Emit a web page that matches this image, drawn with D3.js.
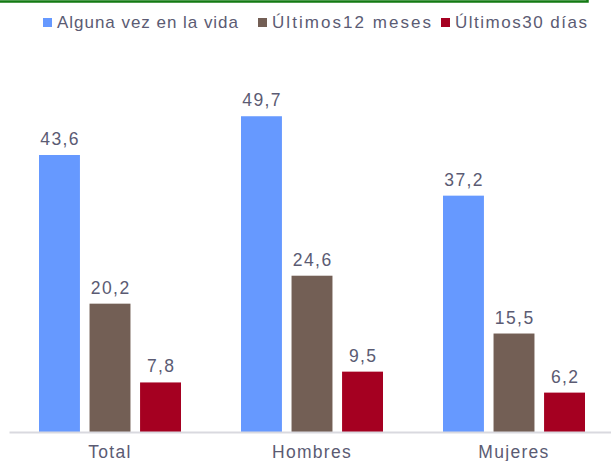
<!DOCTYPE html>
<html lang="es">
<head>
<meta charset="UTF-8">
<title>Consumo</title>
<style>
  body { margin: 0; background: #fff; }
  svg { display: block; font-family: "Liberation Sans", Arial, sans-serif; }
</style>
</head>
<body>
<script src="https://d3js.org/d3.v7.min.js"></script>
<script>
const categories = ["Total", "Hombres", "Mujeres"];
const seriesNames = ["Alguna vez en la vida", "Últimos12 meses", "Últimos30 días"];
const vidaValues = [43.6, 49.7, 37.2];
const mesesValues = [20.2, 24.6, 15.5];
const diasValues = [7.8, 9.5, 6.2];
const colors = ["#6699ff", "#735f55", "#a50021"];

const width = 611, height = 461;
const baseY = 432;
const textColor = "#5b5b73";

const rows = categories.map((c, i) => ({
  cat: c,
  vals: [vidaValues[i], mesesValues[i], diasValues[i]]
}));

const svg = d3.select("body").append("svg")
  .attr("width", width)
  .attr("height", height);

// green frame edge at the top
svg.append("rect")
  .attr("x", -10).attr("y", -50)
  .attr("width", 597.5).attr("height", 51.5)
  .attr("fill", "none")
  .attr("stroke", "#137a13")
  .attr("stroke-width", 2.5);

const x = d3.scaleBand()
  .domain(categories)
  .range([9, 615]);

const xs = d3.scaleBand()
  .domain(d3.range(seriesNames.length))
  .range([30, 172])
  .paddingInner(0.19);

const y = d3.scaleLinear()
  .domain([0, 60])
  .range([baseY, 50.8]);

const g = svg.selectAll("g.grp")
  .data(rows)
  .enter()
  .append("g")
  .attr("class", "grp")
  .attr("transform", d => "translate(" + x(d.cat) + ",0)");

g.selectAll("rect")
  .data(d => d.vals)
  .enter()
  .append("rect")
  .attr("x", (d, i) => xs(i))
  .attr("y", d => y(d))
  .attr("width", xs.bandwidth())
  .attr("height", d => baseY - y(d))
  .attr("fill", (d, i) => colors[i]);

g.selectAll("text.val")
  .data(d => d.vals)
  .enter()
  .append("text")
  .attr("class", "val")
  .attr("x", (d, i) => xs(i) + xs.bandwidth() / 2 + 0.7)
  .attr("y", d => y(d) - 10)
  .attr("text-anchor", "middle")
  .style("font-size", "17.5px")
  .style("letter-spacing", "1.4px")
  .attr("fill", textColor)
  .text(d => d.toFixed(1).replace(".", ","));

// category axis
const axis = svg.append("g")
  .attr("transform", "translate(0," + baseY + ")")
  .call(d3.axisBottom(x).tickSize(0).tickSizeOuter(0).tickPadding(13.6));
axis.select(".domain")
  .attr("stroke", "#d9d9df")
  .attr("stroke-width", 2);
axis.selectAll("text")
  .style("font-size", "17.5px")
  .style("letter-spacing", "1.3px")
  .style("font-family", "'Liberation Sans', Arial, sans-serif")
  .attr("fill", textColor);

// legend
const legendX = [43, 258, 441];
const legendW = [181, 159, 132];
const lg = svg.selectAll("g.leg")
  .data(seriesNames)
  .enter()
  .append("g")
  .attr("class", "leg")
  .attr("transform", (d, i) => "translate(" + legendX[i] + ",0)");
lg.append("rect")
  .attr("x", 0).attr("y", 18)
  .attr("width", 9).attr("height", 9)
  .attr("fill", (d, i) => colors[i]);
lg.append("text")
  .attr("x", 14).attr("y", 28)
  .style("font-size", "17px")
  .attr("textLength", (d, i) => legendW[i])
  .attr("lengthAdjust", "spacing")
  .attr("fill", textColor)
  .text(d => d);
</script>
</body>
</html>
